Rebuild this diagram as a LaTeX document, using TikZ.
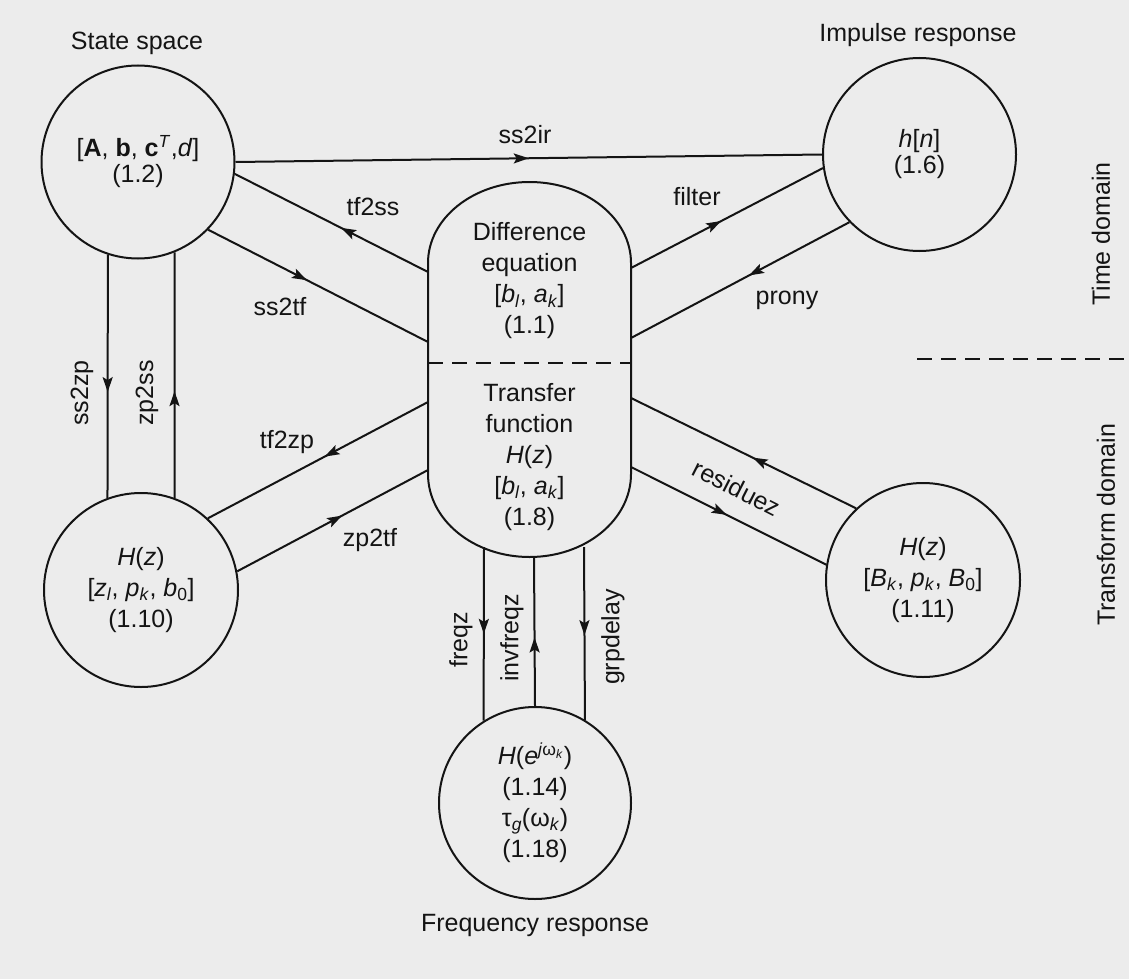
\documentclass[tikz,border=0pt]{standalone}
\usepackage{fontspec}
\setmainfont{Liberation Sans}
\usetikzlibrary{arrows.meta,decorations.markings}
\definecolor{paper}{RGB}{236,236,236}
\definecolor{ink}{RGB}{20,20,20}
\begin{document}
\begin{tikzpicture}[x=1pt,y=-1pt,
  every node/.style={font=\fontsize{25}{31}\selectfont, inner sep=0pt, text=ink},
  circ/.style={draw=ink, circle, line width=2pt, minimum size=193pt, align=center},
  conn/.style={draw=ink, line width=2pt},
  ma/.style={conn, postaction={decorate}, decoration={markings, mark=at position #1 with {\arrow{Stealth[length=15pt,width=10pt,inset=3pt]}}}},
  ma/.default=0.5,
  dsh/.style={draw=ink, line width=2pt, dash pattern=on 15pt off 9pt}
]
\useasboundingbox (0,0) rectangle (1129,979);
\fill[paper] (0,0) rectangle (1129,979);

% circles
\node[circ] (ss) at (138,162) {{}[\textbf{A}, \textbf{b}, \textbf{c}\textsuperscript{\textit{T}},\textit{d}]\\[-5pt](1.2)};
\node[circ] (imp) at (919.5,154.5) {\textit{h}[\textit{n}]\\[-5pt](1.6)};
\node[circ, minimum size=194pt] (zp) at (141,590) {\textit{H}(\textit{z})\\{}[\textit{z}\textsubscript{\textit{l}}, \textit{p}\textsubscript{\textit{k}}, \textit{b}\textsubscript{0}]\\(1.10)};
\node[circ, minimum size=194pt] (pf) at (923,580) {\textit{H}(\textit{z})\\{}[\textit{B}\textsubscript{\textit{k}}, \textit{p}\textsubscript{\textit{k}}, \textit{B}\textsubscript{0}]\\(1.11)};
\node[circ, minimum size=192pt] (fr) at (535,803) {\textit{H}(\textit{e}\textsuperscript{\textit{j}ω\textsubscript{\textit{k}}})\\(1.14)\\τ\textsubscript{\textit{g}}(ω\textsubscript{\textit{k}})\\(1.18)};

% stadium (difference equation / transfer function)
\draw[conn] (428,263) arc[start angle=180, end angle=0, x radius=101.5pt, y radius=81pt]
  -- (631,474) arc[start angle=0, end angle=-180, x radius=101.5pt, y radius=83pt] -- cycle;
\draw[dsh] (428,363) -- (631,363);
\node[align=center] (de) at (529.5,281) {Difference\\equation\\{}[\textit{b}\textsubscript{\textit{l}}, \textit{a}\textsubscript{\textit{k}}]\\(1.1)};
\node[align=center] (tf) at (529.5,457) {Transfer\\function\\\textit{H}(\textit{z})\\{}[\textit{b}\textsubscript{\textit{l}}, \textit{a}\textsubscript{\textit{k}}]\\(1.8)};

\coordinate (L1) at (428,272);
\coordinate (L2) at (428,342);
\coordinate (L3) at (428,402);
\coordinate (L4) at (428,470);
\coordinate (R1) at (631,268);
\coordinate (R2) at (631,338);
\coordinate (R3) at (631,398);
\coordinate (R4) at (631,467);
\coordinate (B1) at (484,547);
\coordinate (B2) at (534,557);
\coordinate (B3) at (584,547);

% titles
\node (tss) at (137,43) {State space};
\node (timp) at (918,35) {Impulse response};
\node (tfr) at (535,925) {Frequency response};
\node[rotate=90] (ttime) at (1101,234) {Time domain};
\node[rotate=90] (ttr) at (1106,525) {Transform domain};
\coordinate (D1) at (917,359);
\coordinate (D2) at (1129,359);
\draw[dsh] (D1) -- (D2);

% connectors
\path[ma=0.5] (ss.0) -- (imp.180);
\path[ma=0.45] (L1) -- (ss.-7.6);
\path[ma=0.45] (ss.-44) -- (L2);
\path[ma=0.565] (ss.-108.7) -- (zp.110.5);
\path[ma=0.435] (zp.70.7) -- (ss.-68.7);
\path[ma=0.47] (L3) -- (zp.47.5);
\path[ma=0.55] (zp.11.6) -- (L4);
\path[ma=0.47] (R1) -- (imp.-172.6);
\path[ma=0.46] (imp.-136.2) -- (R2);
\path[ma=0.46] (pf.133) -- (R3);
\path[ma=0.49] (R4) -- (pf.171);
\path[ma=0.5] (B1) -- (fr.122.1);
\path[ma=0.46] (fr.90.6) -- (B2);
\path[ma=0.51] (B3) -- (fr.59.3);

% connector labels
\node (lss2ir) at (525,135) {ss2ir};
\node (ltf2ss) at (373,207) {tf2ss};
\node (lss2tf) at (280,307) {ss2tf};
\node[rotate=90] (lss2zp) at (82,393) {ss2zp};
\node[rotate=90] (lzp2ss) at (147,393) {zp2ss};
\node (ltf2zp) at (287,442) {tf2zp};
\node (lzp2tf) at (370,540) {zp2tf};
\node (lfilter) at (697,197) {filter};
\node (lprony) at (787,300) {prony};
\node[rotate=-27] (lres) at (737,488) {residuez};
\node[rotate=90] (lfreqz) at (461,640) {freqz};
\node[rotate=90] (linv) at (512,638) {invfreqz};
\node[rotate=90] (lgrp) at (613,637) {grpdelay};
\end{tikzpicture}
\end{document}
